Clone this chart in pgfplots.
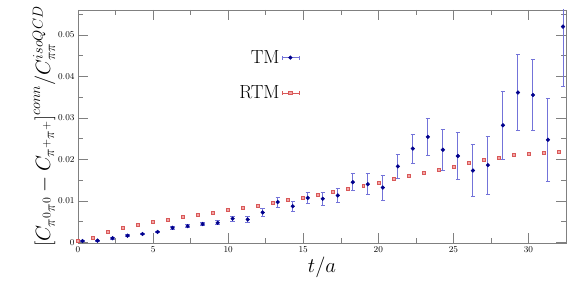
\documentclass[border=0pt]{standalone}
\usepackage{pgfplots}
\pgfplotsset{compat=1.18}
\definecolor{tmblue}{rgb}{0.0,0.0,0.55}
\definecolor{tmbar}{rgb}{0.45,0.45,0.85}
\definecolor{rtmdraw}{rgb}{0.85,0.35,0.35}
\definecolor{rtmfill}{rgb}{0.95,0.65,0.65}
\begin{document}
\begin{tikzpicture}
\begin{axis}[
  name=ax,
  scale only axis,
  width=488bp, height=233bp,
  xmin=0, xmax=32.5,
  ymin=-0.00017, ymax=0.056,
  xtick distance=5, minor x tick num=1,
  ytick distance=0.01, minor y tick num=1,
  scaled y ticks=false,
  yticklabel style={/pgf/number format/fixed, /pgf/number format/precision=2},
  tick label style={font=\fontsize{9.5}{11}\selectfont},
  tick align=inside,
  tick pos=both,
  major tick length=10bp, minor tick length=5bp,
  every tick/.style={gray, line width=0.5pt},
  axis line style={gray, line width=0.7pt},
  xlabel={\huge $t/a$},
  ylabel={\huge $\Big[C_{\pi^0\pi^0}-C_{\pi^+\pi^+}\Big]^{conn}/C^{isoQCD}_{\pi\pi}$},
  xlabel style={yshift=2bp},
  ylabel style={yshift=-4bp},
  legend style={at={(axis cs:14.75,0.0468)}, anchor=north east, draw=none, fill=none, font=\fontsize{19}{23}\selectfont, row sep=17bp, legend cell align=right, inner sep=0pt},
  legend plot pos=right,
]
\addplot[only marks, mark=*, mark size=1.9pt, mark options={draw=tmblue, fill=tmblue},
  error bars/.cd, y dir=both, y explicit,
  error bar style={tmbar, line width=1pt},
  error mark options={rotate=90, tmbar, mark size=2.2pt, line width=0.8pt},
  /pgfplots/legend image code/.code={
  \draw[tmbar, line width=0.8pt] (0bp,0bp) -- (17bp,0bp);
  \draw[tmbar, line width=0.6pt] (0bp,-2bp) -- (0bp,2bp) (17bp,-2bp) -- (17bp,2bp);
  \fill[tmblue] (8.5bp,0bp) circle (1.9bp);}]
  coordinates {
  (0.3,0.0003) +- (0,0.0001)
  (1.3,0.0004) +- (0,0.0001)
  (2.3,0.0010) +- (0,0.0002)
  (3.3,0.0016) +- (0,0.0002)
  (4.3,0.0020) +- (0,0.0002)
  (5.3,0.0025) +- (0,0.0002)
  (6.3,0.0035) +- (0,0.0003)
  (7.3,0.0039) +- (0,0.0003)
  (8.3,0.0044) +- (0,0.0004)
  (9.3,0.0047) +- (0,0.0005)
  (10.3,0.0057) +- (0,0.0006)
  (11.3,0.0055) +- (0,0.0008)
  (12.3,0.0072) +- (0,0.0010)
  (13.3,0.0097) +- (0,0.0012)
  (14.3,0.0087) +- (0,0.0012)
  (15.3,0.0107) +- (0,0.0014)
  (16.3,0.0105) +- (0,0.0016)
  (17.3,0.0113) +- (0,0.0018)
  (18.3,0.0145) +- (0,0.0020)
  (19.3,0.0140) +- (0,0.0025)
  (20.3,0.0132) +- (0,0.0030)
  (21.3,0.0183) +- (0,0.0029)
  (22.3,0.0226) +- (0,0.0035)
  (23.3,0.0254) +- (0,0.0044)
  (24.3,0.0223) +- (0,0.0050)
  (25.3,0.0208) +- (0,0.0056)
  (26.3,0.0173) +- (0,0.0063)
  (27.3,0.0186) +- (0,0.0070)
  (28.3,0.0282) +- (0,0.0082)
  (29.3,0.0361) +- (0,0.0092)
  (30.3,0.0355) +- (0,0.0086)
  (31.3,0.0247) +- (0,0.0100)
  (32.3,0.0520) +- (0,0.0145)
  };
\addlegendentry{TM}
\addplot[only marks, mark=square*, mark size=1.5pt, mark options={draw=rtmdraw, fill=rtmfill, line width=0.6pt},
  error bars/.cd, y dir=both, y explicit,
  error bar style={rtmdraw, line width=0.5pt},
  /pgfplots/legend image code/.code={
  \draw[rtmdraw, line width=0.6pt] (0bp,0bp) -- (17bp,0bp);
  \draw[rtmdraw, line width=0.5pt] (0bp,-2bp) -- (0bp,2bp) (17bp,-2bp) -- (17bp,2bp);
  \filldraw[draw=rtmdraw, fill=rtmfill, line width=0.6pt] (6.9bp,-1.6bp) rectangle (10.1bp,1.6bp);}]
  coordinates {
  (0,0.0004) +- (0,0.0001)
  (1,0.0011) +- (0,0.0001)
  (2,0.0026) +- (0,0.0001)
  (3,0.0035) +- (0,0.0001)
  (4,0.0043) +- (0,0.0001)
  (5,0.0050) +- (0,0.0001)
  (6,0.0055) +- (0,0.0001)
  (7,0.0061) +- (0,0.0001)
  (8,0.0067) +- (0,0.0001)
  (9,0.0072) +- (0,0.0001)
  (10,0.0078) +- (0,0.0001)
  (11,0.0083) +- (0,0.0001)
  (12,0.0088) +- (0,0.0001)
  (13,0.0095) +- (0,0.0001)
  (14,0.0102) +- (0,0.0001)
  (15,0.0108) +- (0,0.0001)
  (16,0.0115) +- (0,0.0001)
  (17,0.0122) +- (0,0.0001)
  (18,0.0128) +- (0,0.0001)
  (19,0.0136) +- (0,0.0001)
  (20,0.0143) +- (0,0.0001)
  (21,0.0152) +- (0,0.0001)
  (22,0.0160) +- (0,0.0001)
  (23,0.0168) +- (0,0.0001)
  (24,0.0175) +- (0,0.0001)
  (25,0.0183) +- (0,0.0001)
  (26,0.0191) +- (0,0.0001)
  (27,0.0198) +- (0,0.0001)
  (28,0.0204) +- (0,0.0001)
  (29,0.0210) +- (0,0.0001)
  (30,0.0213) +- (0,0.0001)
  (31,0.0215) +- (0,0.0001)
  (32,0.0218) +- (0,0.0001)
  };
\addlegendentry{RTM}
\end{axis}
\pgfresetboundingbox
\path ([shift={(-78bp,-48bp)}]ax.south west) rectangle ([shift={(15bp,10bp)}]ax.north east);
\end{tikzpicture}
\end{document}
